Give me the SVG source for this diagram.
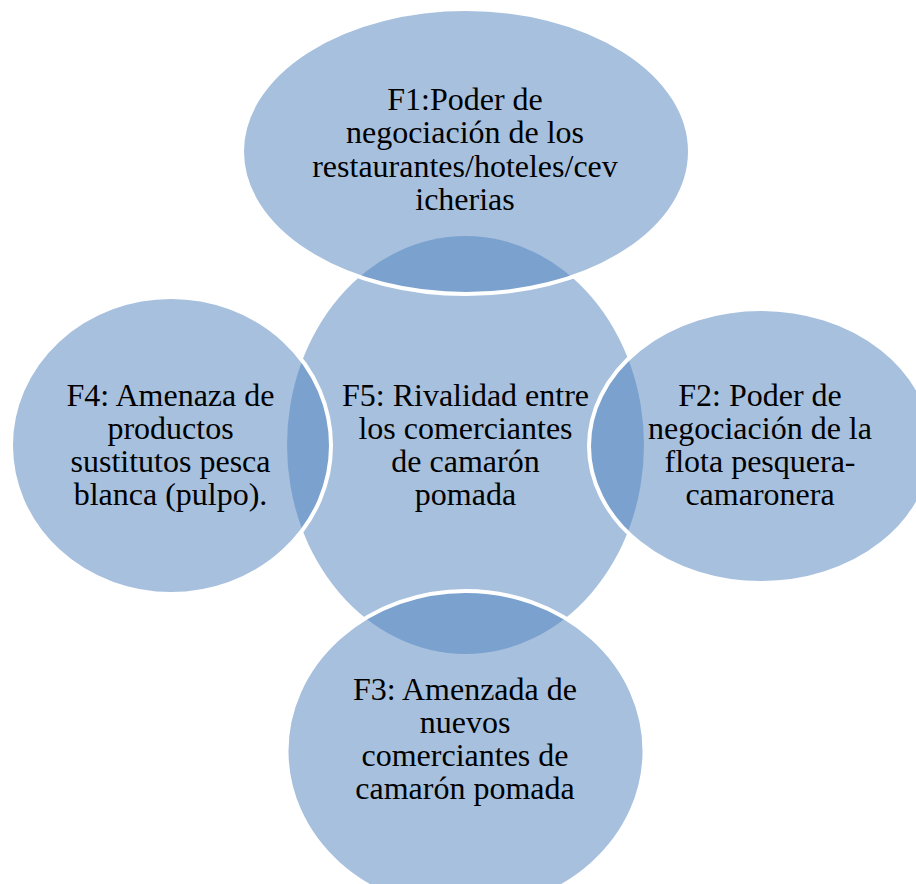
<svg xmlns="http://www.w3.org/2000/svg" width="916" height="884" viewBox="0 0 916 884">
<style>
.shape{fill:#4F81BD;fill-opacity:0.5;}
.sat{stroke:#ffffff;stroke-width:4;}
.lbl{font-family:"Liberation Serif","Times New Roman",serif;font-size:32px;fill:#000000;text-anchor:middle;}
</style>
<rect x="0" y="0" width="916" height="884" fill="#ffffff"/>
<g id="connectors"/>
<g id="F5">
<ellipse class="shape" cx="465.5" cy="445" rx="178.5" ry="209"/>
</g>
<g id="F1">
<ellipse class="shape sat" cx="466" cy="151.5" rx="224" ry="142.5"/>
</g>
<g id="F2">
<ellipse class="shape sat" cx="761" cy="446" rx="172" ry="137"/>
</g>
<g id="F3">
<ellipse class="shape sat" cx="465.5" cy="751" rx="179" ry="160"/>
</g>
<g id="F4">
<ellipse class="shape sat" cx="171" cy="445.5" rx="160" ry="148.5"/>
</g>
<g id="labels">
<text class="lbl" x="465" y="110">F1:Poder de</text>
<text class="lbl" x="465" y="143">negociación de los</text>
<text class="lbl" x="465" y="176.5">restaurantes/hoteles/cev</text>
<text class="lbl" x="465" y="209.5">icherias</text>
<text class="lbl" x="465.5" y="406">F5: Rivalidad entre</text>
<text class="lbl" x="465.5" y="439">los comerciantes</text>
<text class="lbl" x="465.5" y="472">de camarón</text>
<text class="lbl" x="465.5" y="505">pomada</text>
<text class="lbl" x="760" y="406">F2: Poder de</text>
<text class="lbl" x="760" y="439">negociación de la</text>
<text class="lbl" x="760" y="472">flota pesquera-</text>
<text class="lbl" x="760" y="505">camaronera</text>
<text class="lbl" x="465" y="700">F3: Amenzada de</text>
<text class="lbl" x="465" y="733">nuevos</text>
<text class="lbl" x="465" y="766">comerciantes de</text>
<text class="lbl" x="465" y="799">camarón pomada</text>
<text class="lbl" x="170.5" y="406">F4: Amenaza de</text>
<text class="lbl" x="170.5" y="439">productos</text>
<text class="lbl" x="170.5" y="472">sustitutos pesca</text>
<text class="lbl" x="170.5" y="505">blanca (pulpo).</text>
</g>
</svg>
